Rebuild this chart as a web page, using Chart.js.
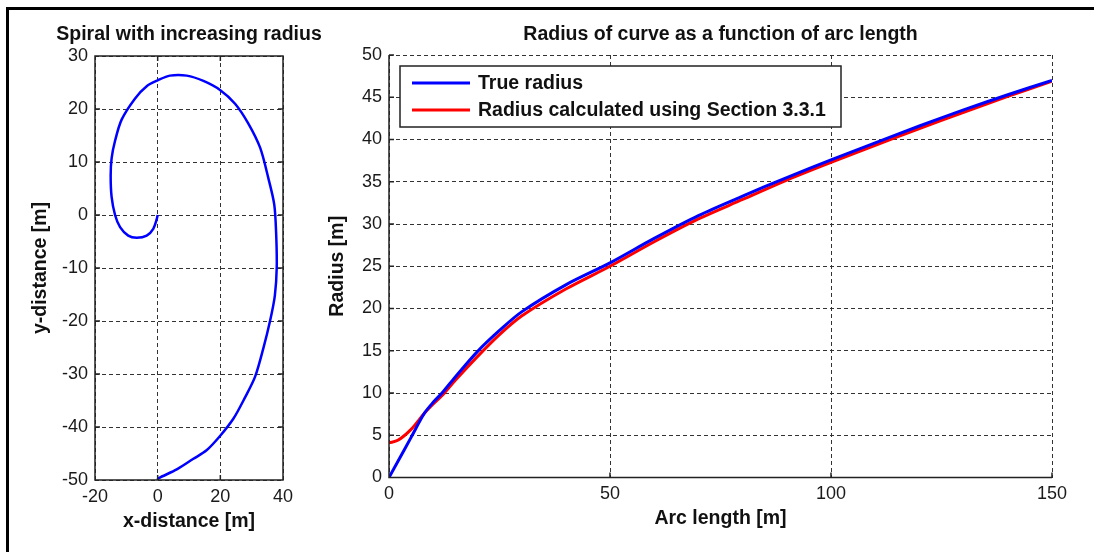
<!DOCTYPE html>
<html>
<head>
<meta charset="utf-8">
<script src="https://cdn.jsdelivr.net/npm/chart.js@4.4.0/dist/chart.umd.min.js"></script>
<style>
  body { margin: 0; background: #fff; width: 1094px; height: 552px; overflow: hidden; position: relative; }
  #frame { position: absolute; left: 6px; top: 7px; width: 1100px; height: 560px; border-top: 3px solid #000; border-left: 3px solid #000; }
  #spiral { position: absolute; left: 10px; top: 12px; }
  #radius { position: absolute; left: 300px; top: 12px; }
</style>
</head>
<body>
<div id="frame"></div>
<canvas id="spiral" width="330" height="530"></canvas>
<canvas id="radius" width="775" height="533"></canvas>
<script>
// spiral path (metres)
const spiralX = [0, -0.3, -1.4, -3.5, -6.7, -9.4, -12, -13.6, -14.7, -15, -14.7, -13.6, -11.5, -7.2, -3.5, 0, 3.9, 9.3, 14.6, 19.9, 24.7, 28.9, 32.7, 35.3, 37.2, 37.8, 38, 37.4, 35.9, 33.7, 31.1, 27.9, 24.2, 19.9, 15.6, 11.4, 6.1, 0.2, 0];
const spiralY = [0, -0.8, -2.6, -3.9, -4.3, -3.9, -2.3, 0, 3.4, 7.4, 10.7, 14, 18, 22, 24.3, 25.4, 26.3, 26.3, 25.3, 23.6, 21, 17.3, 12.7, 7, 2, -3.3, -9.9, -15.2, -19.9, -25.2, -30.5, -34.4, -38.4, -41.7, -44.4, -46, -48, -49.7, -50];

// radius vs arc length
const arcLength  = [0, 2, 5, 8, 10, 12, 15, 20, 25, 30, 40, 50, 60, 70, 80, 90, 100, 110, 120, 130, 140, 150];
const trueRadius = [0, 1.9, 4.75, 7.6, 8.9, 10.0, 11.9, 14.9, 17.4, 19.6, 22.8, 25.4, 28.3, 31.0, 33.3, 35.5, 37.6, 39.6, 41.6, 43.5, 45.3, 47.0];
const calcRadius = [4.1, 4.4, 5.7, 7.6, 8.7, 9.7, 11.5, 14.3, 16.9, 19.1, 22.3, 25.0, 27.9, 30.6, 32.9, 35.2, 37.3, 39.3, 41.3, 43.2, 45.1, 46.9];

const seriesNames = ['True radius', 'Radius calculated using Section 3.3.1'];
const titles = ['Spiral with increasing radius', 'Radius of curve as a function of arc length'];

const FONT = '"Liberation Sans", Arial, sans-serif';
const BOLD = 19.5;
Chart.defaults.font.family = FONT;
Chart.defaults.font.size = 18;
Chart.defaults.color = '#1a1a1a';

function toPoints(xs, ys) {
  return xs.map((x, i) => ({ x: x, y: ys[i] }));
}

// title over the plot area, solid axes, inward tick marks and optional box
function framePlugin(title, box) {
  return {
    id: 'frame',
    afterDatasetsDraw(chart) {
      const { ctx, chartArea: a, scales } = chart;
      ctx.save();
      ctx.strokeStyle = '#222';
      ctx.lineWidth = 1.5;
      ctx.beginPath();
      ctx.moveTo(a.left, a.top); ctx.lineTo(a.left, a.bottom); ctx.lineTo(a.right, a.bottom);
      if (box) { ctx.lineTo(a.right, a.top); ctx.closePath(); }
      scales.x.ticks.forEach(t => {
        const px = scales.x.getPixelForValue(t.value);
        ctx.moveTo(px, a.bottom); ctx.lineTo(px, a.bottom - 5);
        if (box) { ctx.moveTo(px, a.top); ctx.lineTo(px, a.top + 5); }
      });
      scales.y.ticks.forEach(t => {
        const py = scales.y.getPixelForValue(t.value);
        ctx.moveTo(a.left, py); ctx.lineTo(a.left + 5, py);
        if (box) { ctx.moveTo(a.right, py); ctx.lineTo(a.right - 5, py); }
      });
      ctx.stroke();
      ctx.fillStyle = '#111';
      ctx.font = 'bold ' + BOLD + 'px ' + FONT;
      ctx.textAlign = 'center';
      ctx.textBaseline = 'alphabetic';
      ctx.fillText(title, (a.left + a.right) / 2, 28);
      ctx.restore();
    }
  };
}

const legendBox = {
  id: 'legendBox',
  afterDatasetsDraw(chart) {
    const { ctx, chartArea: a } = chart;
    const x0 = a.left + 11, y0 = a.top + 11;
    ctx.save();
    ctx.fillStyle = '#fff';
    ctx.fillRect(x0, y0, 441, 61);
    ctx.strokeStyle = '#222';
    ctx.lineWidth = 1.5;
    ctx.strokeRect(x0, y0, 441, 61);
    ctx.font = 'bold ' + BOLD + 'px ' + FONT;
    ctx.textBaseline = 'middle';
    ctx.textAlign = 'left';
    chart.data.datasets.forEach((ds, i) => {
      const y = y0 + 17 + i * 27;
      ctx.strokeStyle = ds.borderColor;
      ctx.lineWidth = 3;
      ctx.beginPath();
      ctx.moveTo(x0 + 12, y); ctx.lineTo(x0 + 70, y);
      ctx.stroke();
      ctx.fillStyle = '#111';
      ctx.fillText(ds.label, x0 + 78, y + 1);
    });
    ctx.restore();
  }
};

function gridOpts() {
  return { color: '#333', lineWidth: 1, drawTicks: false };
}
function axisTitle(text, pad) {
  return { display: true, text: text, font: { weight: 'bold', size: BOLD }, color: '#111', padding: pad };
}

new Chart(document.getElementById('spiral'), {
  type: 'scatter',
  data: {
    datasets: [{
      data: toPoints(spiralX, spiralY),
      showLine: true,
      borderColor: '#0000ff',
      borderWidth: 2.5,
      pointRadius: 0,
      tension: 0.3
    }]
  },
  options: {
    responsive: false,
    animation: false,
    layout: { padding: { top: 44, right: 57, left: 0, bottom: 0 } },
    plugins: { legend: { display: false }, tooltip: { enabled: false } },
    scales: {
      x: {
        min: -20, max: 40,
        ticks: { stepSize: 20, padding: 6, maxRotation: 0 },
        grid: gridOpts(),
        border: { display: false, dash: [4, 3] },
        title: axisTitle('x-distance [m]', { top: 0, bottom: 8.3 }),
        afterFit: s => { s.height = 62; }
      },
      y: {
        min: -50, max: 30,
        ticks: { stepSize: 10, padding: 7 },
        grid: gridOpts(),
        border: { display: false, dash: [4, 3] },
        title: axisTitle('y-distance [m]', { top: 19.3, bottom: 0 }),
        afterFit: s => { s.width = 85; }
      }
    }
  },
  plugins: [framePlugin(titles[0], true)]
});

new Chart(document.getElementById('radius'), {
  type: 'scatter',
  data: {
    datasets: [
      {
        label: seriesNames[0],
        data: toPoints(arcLength, trueRadius),
        showLine: true,
        borderColor: '#0000ff',
        borderWidth: 3,
        pointRadius: 0,
        tension: 0.3
      },
      {
        label: seriesNames[1],
        data: toPoints(arcLength, calcRadius),
        showLine: true,
        borderColor: '#ff0000',
        borderWidth: 3,
        pointRadius: 0,
        tension: 0.3
      }
    ]
  },
  options: {
    responsive: false,
    animation: false,
    layout: { padding: { top: 43, right: 23, left: 0, bottom: 0 } },
    plugins: { legend: { display: false }, tooltip: { enabled: false } },
    scales: {
      x: {
        min: 0, max: 150,
        ticks: { stepSize: 50, padding: 6, maxRotation: 0 },
        grid: gridOpts(),
        border: { display: false, dash: [4, 3] },
        title: axisTitle('Arc length [m]', { top: 0, bottom: 14.3 }),
        afterFit: s => { s.height = 67.5; }
      },
      y: {
        min: 0, max: 50,
        ticks: { stepSize: 5, padding: 7 },
        grid: gridOpts(),
        border: { display: false, dash: [4, 3] },
        title: axisTitle('Radius [m]', { top: 26.3, bottom: 0 }),
        afterFit: s => { s.width = 89; }
      }
    }
  },
  plugins: [framePlugin(titles[1], false), legendBox]
});
</script>
</body>
</html>
